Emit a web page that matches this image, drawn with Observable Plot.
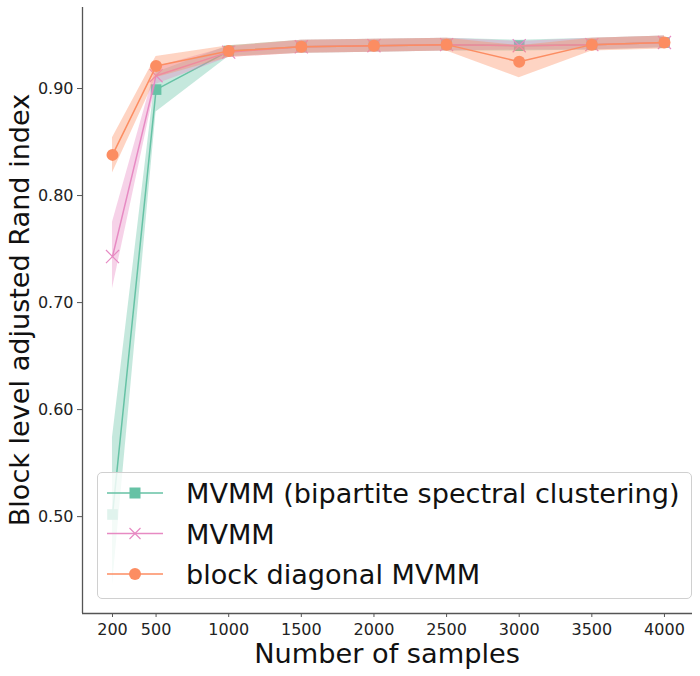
<!DOCTYPE html>
<html>
<head>
<meta charset="utf-8">
<script src="https://cdn.jsdelivr.net/npm/d3@7"></script>
<script src="https://cdn.jsdelivr.net/npm/@observablehq/plot@0.6"></script>
<style>
  html, body { margin: 0; padding: 0; background: white; }
  #wrap { position: relative; width: 700px; height: 676px; font-family: "DejaVu Sans", sans-serif; }
  #legend { position: absolute; left: 97px; top: 472px; width: 593px; height: 125px;
            border: 1px solid #d0d0d0; border-radius: 5px; background: rgba(255,255,255,0.8); }
</style>
</head>
<body>
<div id="wrap"></div>
<script>
// ---- data ----
const samples = [200, 500, 1000, 1500, 2000, 2500, 3000, 3500, 4000];

const bipartiteMean = [0.502, 0.899, 0.935, 0.939, 0.940, 0.941, 0.940, 0.941, 0.943];
const bipartiteLow  = [0.436, 0.878, 0.930, 0.933, 0.934, 0.935, 0.935, 0.936, 0.938];
const bipartiteHigh = [0.574, 0.915, 0.940, 0.945, 0.946, 0.947, 0.945, 0.947, 0.949];

const mvmmMean = [0.743, 0.912, 0.934, 0.939, 0.940, 0.941, 0.940, 0.941, 0.943];
const mvmmLow  = [0.713, 0.904, 0.929, 0.933, 0.934, 0.935, 0.936, 0.936, 0.938];
const mvmmHigh = [0.775, 0.920, 0.939, 0.945, 0.946, 0.947, 0.944, 0.947, 0.949];

const blockMean = [0.838, 0.921, 0.935, 0.939, 0.940, 0.941, 0.925, 0.941, 0.943];
const blockLow  = [0.821, 0.910, 0.929, 0.933, 0.934, 0.935, 0.910, 0.935, 0.937];
const blockHigh = [0.854, 0.930, 0.940, 0.945, 0.946, 0.947, 0.940, 0.947, 0.949];

const seriesNames = ["MVMM (bipartite spectral clustering)", "MVMM", "block diagonal MVMM"];
const seriesColors = ["#66c2a5", "#e78ac3", "#fc8d62"];
const seriesSymbols = ["square", "times", "circle"];

const xTicks = [200, 500, 1000, 1500, 2000, 2500, 3000, 3500, 4000];
const yTicks = [0.5, 0.6, 0.7, 0.8, 0.9];
const xDomain = [-6.5, 4193];
const yDomain = [0.4095, 0.9757];

const xLabel = "Number of samples";
const yLabel = "Block level adjusted Rand index";

// ---- build tables ----
function table(mean, lo, hi) {
  return samples.map((n, i) => ({n, mean: mean[i], lo: lo[i], hi: hi[i]}));
}
const tables = [
  table(bipartiteMean, bipartiteLow, bipartiteHigh),
  table(mvmmMean, mvmmLow, mvmmHigh),
  table(blockMean, blockLow, blockHigh)
];

const marks = [];
tables.forEach((t, k) => {
  const c = seriesColors[k];
  marks.push(Plot.areaY(t, {x: "n", y1: "lo", y2: "hi", fill: c, fillOpacity: 0.38}));
  marks.push(Plot.line(t, {x: "n", y: "mean", stroke: c, strokeWidth: 1.5}));
  if (seriesSymbols[k] === "times") {
    marks.push(Plot.dot(t, {x: "n", y: "mean", symbol: "times", stroke: c, strokeWidth: 1.2, r: 6}));
  } else {
    marks.push(Plot.dot(t, {x: "n", y: "mean", symbol: seriesSymbols[k], fill: c, stroke: "none", r: 6}));
  }
});
marks.push(Plot.ruleX([xDomain[0]], {stroke: "#555", strokeWidth: 1.3}));
marks.push(Plot.ruleY([yDomain[0]], {stroke: "#555", strokeWidth: 1.3}));

const chart = Plot.plot({
  width: 700,
  height: 676,
  marginLeft: 82,
  marginRight: 8,
  marginTop: 7,
  marginBottom: 63,
  style: {fontFamily: "DejaVu Sans", fontSize: "16px", color: "#222", background: "white", overflow: "visible"},
  x: {domain: xDomain, ticks: xTicks, tickFormat: d => String(d), tickSize: 4, tickPadding: 6, label: null},
  y: {domain: yDomain, ticks: yTicks, tickFormat: d3.format(".2f"), tickSize: 5, tickPadding: 4, label: null},
  marks
});

const wrap = document.getElementById("wrap");
wrap.appendChild(chart);

const svg = d3.select(chart);
svg.selectAll('g[aria-label="x-axis tick"] path, g[aria-label="y-axis tick"] path').attr("stroke", "#555");
svg.selectAll('g[aria-label="x-axis"] line, g[aria-label="y-axis"] line').attr("stroke", "#555");

// axis labels
svg.append("text")
  .attr("x", 387).attr("y", 663)
  .attr("text-anchor", "middle")
  .attr("font-family", "DejaVu Sans").attr("font-size", 27.2).attr("fill", "#111")
  .text(xLabel);
svg.append("text")
  .attr("transform", "translate(29,310) rotate(-90)")
  .attr("text-anchor", "middle")
  .attr("font-family", "DejaVu Sans").attr("font-size", 27.1).attr("fill", "#111")
  .text(yLabel);

// legend overlay
const legend = document.createElement("div");
legend.id = "legend";
wrap.appendChild(legend);
const lsvg = d3.select(legend).append("svg").attr("width", 593).attr("height", 125)
  .style("position", "absolute").style("left", "0px").style("top", "0px");
seriesNames.forEach((name, k) => {
  const cy = 20 + k * 40.5;
  const c = seriesColors[k];
  const g = lsvg.append("g");
  g.append("line").attr("x1", 9).attr("x2", 65).attr("y1", cy).attr("y2", cy)
    .attr("stroke", c).attr("stroke-width", 1.5);
  if (seriesSymbols[k] === "square") {
    g.append("rect").attr("x", 37 - 5.5).attr("y", cy - 5.5).attr("width", 11).attr("height", 11).attr("fill", c);
  } else if (seriesSymbols[k] === "times") {
    g.append("path").attr("d", `M${37-5.5},${cy-5.5}L${37+5.5},${cy+5.5}M${37-5.5},${cy+5.5}L${37+5.5},${cy-5.5}`)
      .attr("stroke", c).attr("stroke-width", 1.2);
  } else {
    g.append("circle").attr("cx", 37).attr("cy", cy).attr("r", 6).attr("fill", c);
  }
  g.append("text").attr("x", 88).attr("y", cy + 10)
    .attr("font-family", "DejaVu Sans").attr("font-size", 27.1).attr("fill", "#111")
    .text(name);
});
</script>
</body>
</html>
